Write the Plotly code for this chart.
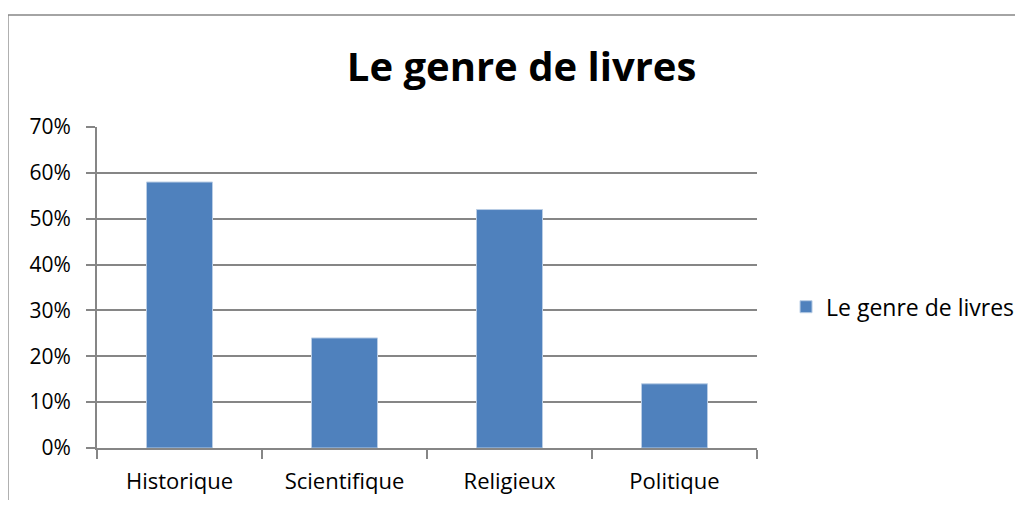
import plotly.graph_objects as go

categories = ["Historique", "Scientifique", "Religieux", "Politique"]
values = [0.58, 0.24, 0.52, 0.14]
series_name = "Le genre de livres"
title_text = "Le genre de livres"

BAR = "#4F81BD"
GRID = "#868686"
FONT = "Open Sans"

fig = go.Figure(go.Bar(
    x=categories, y=values, name=series_name,
    marker=dict(color=BAR, line=dict(color="#B9CDE5", width=1)),
    showlegend=True,
))

# page body adds an 8px margin, so the figure is drawn 8px in from the window edge
fig.update_layout(
    width=1007, height=492,
    margin=dict(l=89, r=258, t=119, b=52, autoexpand=False),
    plot_bgcolor="white",
    paper_bgcolor="white",
    font=dict(family=FONT, size=21, color="black"),
    bargap=0.6,
    title=dict(text="<b>" + title_text + "</b>", x=0.51, xanchor="center",
               y=0.88, yanchor="middle",
               font=dict(family=FONT, size=40, color="black")),
    legend=dict(x=1.044, xanchor="left", y=0.44, yanchor="middle",
                font=dict(size=23), itemwidth=30),
)
fig.update_xaxes(
    automargin=False,
    showline=True, linecolor=GRID, linewidth=2,
    ticks="outside", tickson="boundaries", ticklen=9, tickcolor=GRID, tickwidth=2,
    showgrid=False, tickfont=dict(size=22), ticklabelstandoff=13,
)
fig.update_yaxes(
    automargin=False,
    range=[0, 0.7], dtick=0.1, tickformat=".0%",
    showline=True, linecolor=GRID, linewidth=2,
    showgrid=True, gridcolor=GRID, gridwidth=2,
    ticks="outside", ticklen=9, tickcolor=GRID, tickwidth=2,
    tickfont=dict(size=21), zeroline=False, ticklabelstandoff=11,
)
# outer chart frame
fig.add_shape(type="rect", xref="paper", yref="paper",
              x0=-0.135, x1=1.7, y0=-0.4, y1=1.349,
              line=dict(color=GRID, width=1.5), layer="below")

fig.write_html("out.html")
